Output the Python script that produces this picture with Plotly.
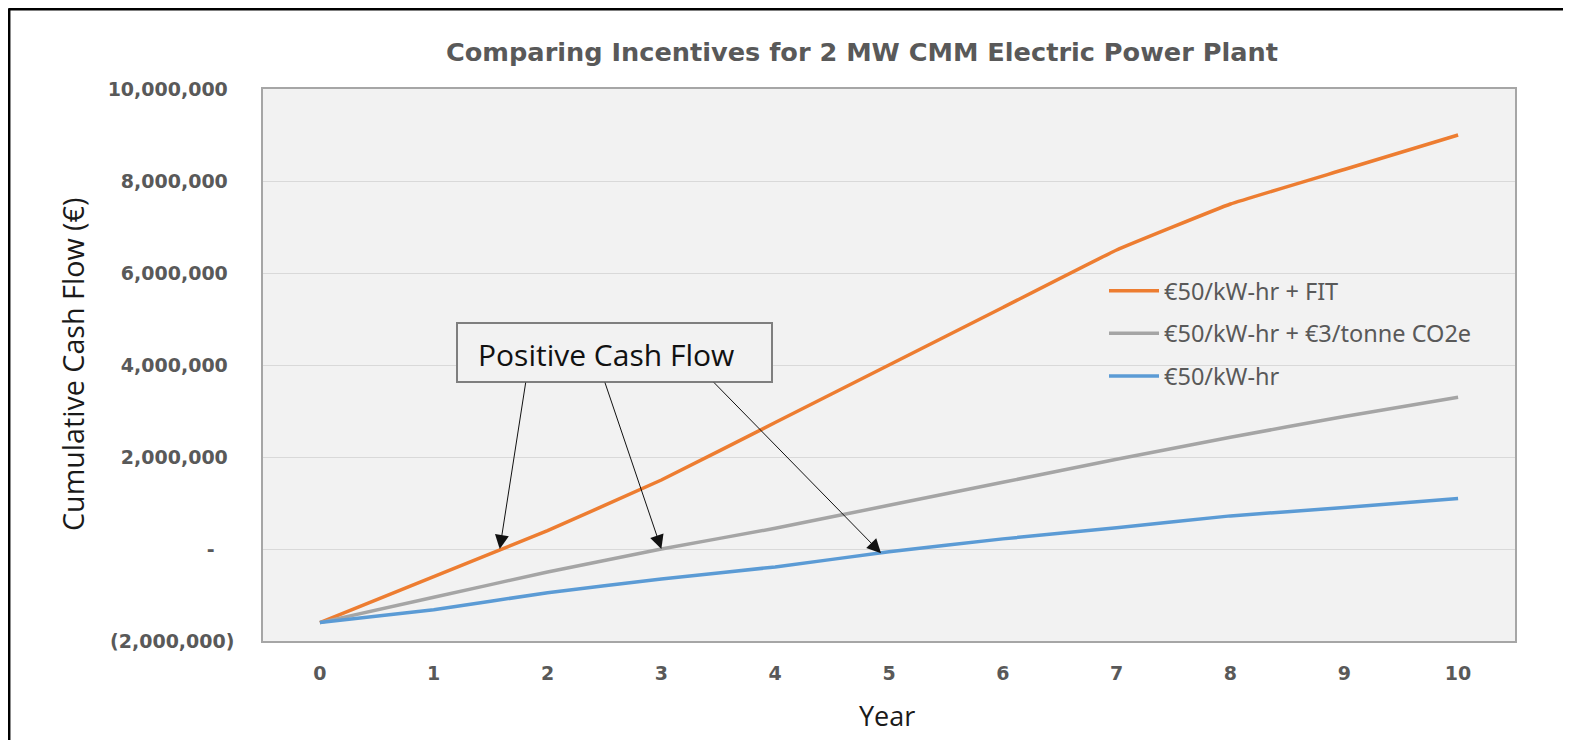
import plotly.graph_objects as go

years = [0, 1, 2, 3, 4, 5, 6, 7, 8, 9, 10]
fit_series = [-1600000, -600000, 400000, 1500000, 2750000, 4000000, 5250000, 6500000, 7500000, 8250000, 9000000]
co2_series = [-1600000, -1050000, -500000, 0, 450000, 950000, 1450000, 1950000, 2430000, 2880000, 3300000]
base_series = [-1600000, -1320000, -950000, -650000, -390000, -60000, 220000, 460000, 720000, 900000, 1100000]
series_names = ["€50/kW-hr + FIT", "€50/kW-hr + €3/tonne CO2e", "€50/kW-hr"]
y_tickvals = [-2000000, 0, 2000000, 4000000, 6000000, 8000000, 10000000]
y_ticktext = ["(2,000,000)", "-   ", "2,000,000 ", "4,000,000 ", "6,000,000 ", "8,000,000 ", "10,000,000 "]

# arrow targets (year, value) and starts for the "Positive Cash Flow" callout
arrow_tips = [(1.58, 0), (3.0, 0), (4.93, -90000)]
arrow_starts = [(1.81, 3650000), (2.50, 3650000), (3.45, 3650000)]

colors = ["#ED7D31", "#A5A5A5", "#5B9BD5"]

fig = go.Figure()
for i, (name, vals) in enumerate(zip(series_names, [fit_series, co2_series, base_series])):
    fig.add_trace(go.Scatter(
        x=years, y=vals, name=name, mode="lines",
        line=dict(color=colors[i], width=3.5, shape="spline", smoothing=0.25),
        legendgroup=f"g{i}",
    ))

OFF = 8  # page body margin
W, H = 1563, 732
L, R, T, B = 255, 56, 81, 99
pw, ph = W - L - R, H - T - B

def px_x(p):
    return (p - OFF - L) / pw

def px_y(p):
    return (H - B - (p - OFF)) / ph

tick_font = dict(family="DejaVu Sans", size=19, color="#595959", weight="bold")

fig.update_layout(
    width=W, height=H,
    margin=dict(l=L, r=R, t=T, b=B),
    paper_bgcolor="white",
    plot_bgcolor="#F2F2F2",
    showlegend=True,
    legend=dict(
        x=px_x(1104), y=px_y(269), xanchor="left", yanchor="top",
        bgcolor="rgba(0,0,0,0)",
        font=dict(family="Noto Sans", size=23.5, color="#595959"),
        tracegroupgap=9, itemwidth=50, traceorder="grouped",
    ),
    xaxis=dict(
        range=[-0.5, 10.5], tickvals=years, ticktext=[str(y) for y in years],
        showgrid=False, zeroline=False,
        showline=True, mirror=True, linecolor="#A6A6A6", linewidth=1.5,
        ticks="outside", ticklen=14, tickcolor="rgba(0,0,0,0)",
        tickfont=tick_font,
    ),
    yaxis=dict(
        range=[-2000000, 10000000], tickvals=y_tickvals, ticktext=y_ticktext,
        showgrid=True, gridcolor="#D9D9D9", gridwidth=1, zeroline=False,
        showline=True, mirror=True, linecolor="#A6A6A6", linewidth=1.5,
        ticks="outside", ticklen=23, tickcolor="rgba(0,0,0,0)",
        tickfont=tick_font,
    ),
    shapes=[
        dict(type="line", xref="paper", yref="paper", x0=px_x(8.5), x1=px_x(W + 20), y0=px_y(9.2), y1=px_y(9.2),
             line=dict(color="black", width=2.5)),
        dict(type="line", xref="paper", yref="paper", x0=px_x(9.2), x1=px_x(9.2), y0=px_y(8.5), y1=px_y(H + 20),
             line=dict(color="black", width=2.5)),
        dict(type="rect", xref="paper", yref="paper", x0=px_x(457), x1=px_x(772), y0=px_y(382), y1=px_y(323),
             line=dict(color="#7F7F7F", width=2), fillcolor="#F2F2F2"),
    ],
)

annotations = [
    dict(text="<b>Comparing Incentives for 2 MW CMM Electric Power Plant</b>", xref="paper", yref="paper",
         x=px_x(862), y=px_y(52), xanchor="center", yanchor="middle", showarrow=False,
         font=dict(family="DejaVu Sans", size=25.6, color="#595959")),
    dict(text="Cumulative Cash Flow (€)", xref="paper", yref="paper", textangle=-90,
         x=px_x(72), y=px_y(365), xanchor="center", yanchor="middle", showarrow=False,
         font=dict(family="Open Sans", size=28.7, color="#1a1a1a")),
    dict(text="Year", xref="paper", yref="paper",
         x=px_x(887), y=px_y(715), xanchor="center", yanchor="middle", showarrow=False,
         font=dict(family="Open Sans", size=27, color="#1a1a1a")),
    dict(text="Positive Cash Flow", xref="paper", yref="paper",
         x=px_x(606), y=px_y(354), xanchor="center", yanchor="middle", showarrow=False,
         font=dict(family="Open Sans", size=30, color="#111111")),
]
for (tx, ty), (sx, sy) in zip(arrow_tips, arrow_starts):
    annotations.append(dict(
        x=tx, y=ty, ax=sx, ay=sy, xref="x", yref="y", axref="x", ayref="y",
        text="", showarrow=True, arrowhead=2, arrowsize=2.8, arrowwidth=1, arrowcolor="#111111",
        standoff=0,
    ))
fig.update_layout(annotations=annotations)

fig.write_html("out.html")
